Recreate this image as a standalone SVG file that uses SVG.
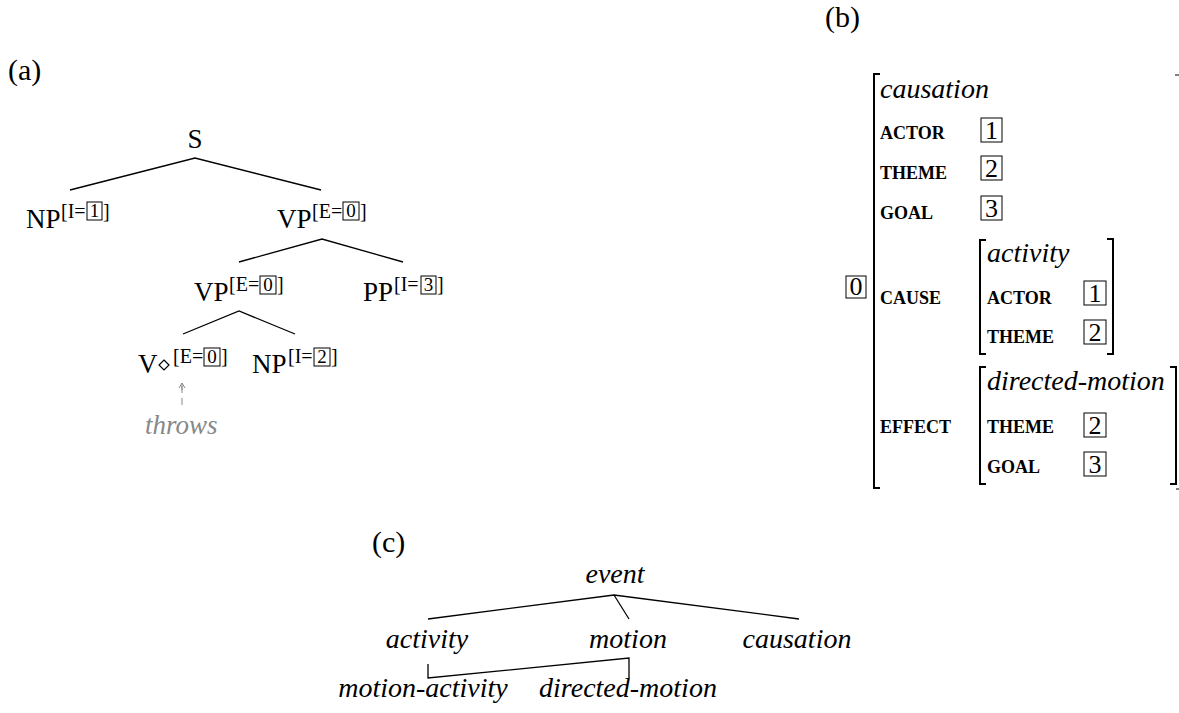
<svg xmlns="http://www.w3.org/2000/svg" width="1179" height="713" viewBox="0 0 1179 713">
<style>
text { font-family: "Liberation Serif", "Times New Roman", serif; fill: #000; }
.lbl { font-size: 30px; }
.node { font-size: 27px; }
.sup { font-size: 20px; }
.supd { font-size: 19px; text-anchor: middle; }
.it { font-style: italic; font-size: 28px; }
.itc { font-style: italic; font-size: 28px; text-anchor: middle; }
.sc { font-size: 18px; font-weight: bold; }
.dig { font-size: 26px; text-anchor: middle; }
.box { fill: none; stroke: #000; stroke-width: 1; }
.edge { stroke: #000; stroke-width: 1.3; fill: none; }
.br { stroke: #000; stroke-width: 2; fill: none; }
.gray { fill: #888; }
</style>
<rect width="1179" height="713" fill="#fff"/>

<!-- panel labels -->
<text id="label-a" class="lbl" x="8" y="80">(a)</text>
<text id="label-b" class="lbl" x="825" y="27">(b)</text>
<text id="label-c" class="lbl" x="372" y="552">(c)</text>

<!-- (a) tree nodes -->
<g id="node-S"><text class="node" x="195" y="148" text-anchor="middle">S</text></g>
<g id="node-NP1">
  <text class="node" x="26" y="228">NP</text>
  <text class="sup" x="61" y="218">[I=</text>
  <rect class="box" x="87" y="202" width="15" height="18"/>
  <text class="supd" x="94.5" y="217">1</text>
  <text class="sup" x="103" y="218">]</text>
</g>
<g id="node-VP1">
  <text class="node" x="277" y="228">VP</text>
  <text class="sup" x="312" y="218">[E=</text>
  <rect class="box" x="343" y="202" width="16" height="18"/>
  <text class="supd" x="351" y="217">0</text>
  <text class="sup" x="360" y="218">]</text>
</g>
<g id="node-VP2">
  <text class="node" x="194" y="301">VP</text>
  <text class="sup" x="229" y="291">[E=</text>
  <rect class="box" x="260" y="276" width="16" height="18"/>
  <text class="supd" x="268" y="291">0</text>
  <text class="sup" x="277" y="291">]</text>
</g>
<g id="node-PP">
  <text class="node" x="363" y="301">PP</text>
  <text class="sup" x="394" y="291">[I=</text>
  <rect class="box" x="421" y="276" width="15" height="18"/>
  <text class="supd" x="428.5" y="291">3</text>
  <text class="sup" x="437" y="291">]</text>
</g>
<g id="node-V">
  <text class="node" x="138" y="373">V</text>
  <polygon points="164,360 169,365 164,370 159,365" fill="none" stroke="#000" stroke-width="1.2"/>
  <text class="sup" x="173" y="363">[E=</text>
  <rect class="box" x="204" y="348" width="16" height="18"/>
  <text class="supd" x="212" y="363">0</text>
  <text class="sup" x="221" y="363">]</text>
</g>
<g id="node-NP2">
  <text class="node" x="252" y="373">NP</text>
  <text class="sup" x="288" y="363">[I=</text>
  <rect class="box" x="314" y="348" width="16" height="18"/>
  <text class="supd" x="322" y="363">2</text>
  <text class="sup" x="331" y="363">]</text>
</g>
<g id="node-throws">
  <text class="gray" x="145" y="434" style="font-style:italic;font-size:27px">throws</text>
</g>

<!-- (b) AVM -->
<g id="avm">
  <rect class="box" x="846" y="276" width="20" height="22"/>
  <text class="dig" x="856" y="295">0</text>
  <path class="br" d="M880,74 H874 V488 H880"/>
  <line x1="1175" y1="75" x2="1179" y2="75" stroke="#000" stroke-width="1"/>
  <line x1="1176" y1="489" x2="1179" y2="489" stroke="#000" stroke-width="1"/>
  <text class="it" x="880" y="98">causation</text>
  <text class="sc" x="880" y="139">ACTOR</text>
  <rect class="box" x="981" y="118" width="21" height="24"/>
  <text class="dig" x="991.5" y="139">1</text>
  <text class="sc" x="880" y="179">THEME</text>
  <rect class="box" x="981" y="156" width="21" height="24"/>
  <text class="dig" x="991.5" y="177">2</text>
  <text class="sc" x="880" y="219">GOAL</text>
  <rect class="box" x="981" y="196" width="21" height="24"/>
  <text class="dig" x="991.5" y="217">3</text>
  <text class="sc" x="880" y="304">CAUSE</text>
  <text class="sc" x="880" y="433">EFFECT</text>
</g>
<g id="avm-cause">
  <path class="br" d="M986,240 H980 V354 H986"/>
  <path class="br" d="M1107,239 H1113 V354 H1107"/>
  <text class="it" x="987" y="262">activity</text>
  <text class="sc" x="987" y="304">ACTOR</text>
  <rect class="box" x="1084" y="281" width="22" height="24"/>
  <text class="dig" x="1095" y="302">1</text>
  <text class="sc" x="987" y="343">THEME</text>
  <rect class="box" x="1084" y="320" width="22" height="24"/>
  <text class="dig" x="1095" y="341">2</text>
</g>
<g id="avm-effect">
  <path class="br" d="M986,367 H980 V484 H986"/>
  <path class="br" d="M1170,367 H1176 V484 H1170"/>
  <text class="it" x="987" y="390">directed-motion</text>
  <text class="sc" x="987" y="433">THEME</text>
  <rect class="box" x="1084" y="413" width="22" height="24"/>
  <text class="dig" x="1095" y="434">2</text>
  <text class="sc" x="987" y="473">GOAL</text>
  <rect class="box" x="1084" y="452" width="22" height="24"/>
  <text class="dig" x="1095" y="473">3</text>
</g>

<!-- (c) hierarchy nodes -->
<g id="node-event"><text class="itc" x="615" y="583">event</text></g>
<g id="node-activity"><text class="itc" x="427" y="648">activity</text></g>
<g id="node-motion"><text class="itc" x="628" y="648">motion</text></g>
<g id="node-causation"><text class="itc" x="797" y="648">causation</text></g>
<g id="node-motion-activity"><text class="itc" x="423" y="697">motion-activity</text></g>
<g id="node-directed-motion"><text class="itc" x="628" y="697">directed-motion</text></g>

<!-- connectors -->
<g id="connectors">
  <path class="edge" d="M70,190 L195,158 L321,190"/>
  <path class="edge" d="M239,262 L322,239 L403,262"/>
  <path class="edge" d="M183,334 L239,311 L295,334"/>
  <line x1="182" y1="405" x2="182" y2="385" stroke="#888" stroke-width="1" stroke-dasharray="7,5"/>
  <path d="M179,388 L182,383 L185,388 M182,383 V390" fill="none" stroke="#888" stroke-width="1"/>
  <path class="edge" d="M428,619 L614,595 L799,619"/>
  <line class="edge" x1="614" y1="595" x2="629" y2="619"/>
  <path class="edge" d="M428,664 V678 L629,658 V678"/>
</g>
</svg>
